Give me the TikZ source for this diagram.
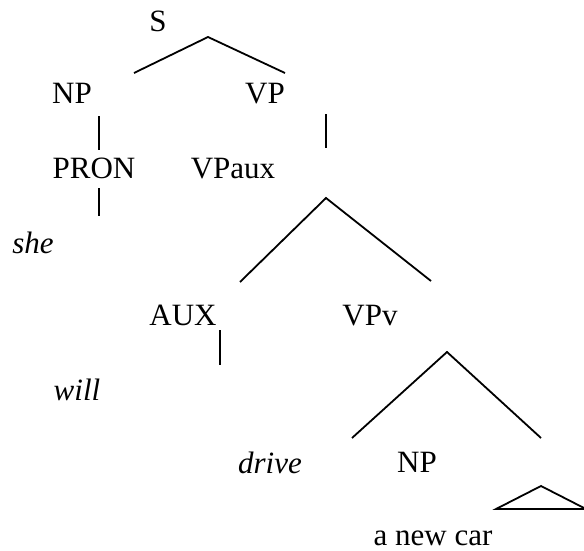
\documentclass[tikz,border=0pt]{standalone}
\usepackage{fontspec}
\setmainfont{Liberation Serif}
\begin{document}
\begin{tikzpicture}[x=1pt,y=-1pt,
  lbl/.style={anchor=base,inner sep=0pt,font=\fontsize{31}{37}\selectfont},
  wrd/.style={lbl,font=\fontsize{31}{37}\selectfont\itshape},
  edge/.style={line width=1.8pt,line cap=butt,line join=miter}]
\useasboundingbox (0,0) rectangle (584,551);
\clip (0,0) rectangle (584,551);
% labels
\node[lbl] (S) at (158,32) {S};
\node[lbl] (NP) at (72,103) {NP};
\node[lbl] (VP) at (265,103) {VP};
\node[lbl] (PRON) at (94,178) {PRON};
\node[lbl] (VPaux) at (233,178) {VPaux};
\node[wrd] (she) at (33,253) {she};
\node[lbl] (AUX) at (183,325) {AUX};
\node[lbl] (VPv) at (370,325) {VPv};
\node[wrd] (will) at (77,400) {will};
\node[wrd] (drive) at (270,473) {drive};
\node[lbl] (NPb) at (417,472) {NP};
\node[lbl] (car) at (433,545) {a new car};
% connector points
\coordinate (s1) at (134,73);
\coordinate (s0) at (208,37);
\coordinate (s2) at (285,73);
\coordinate (np0) at (99,116);
\coordinate (np1) at (99,150);
\coordinate (pr0) at (99,188);
\coordinate (pr1) at (99,216);
\coordinate (vp0) at (326,114);
\coordinate (vp1) at (326,148);
\coordinate (va1) at (240,282);
\coordinate (va0) at (326,198);
\coordinate (va2) at (431,281);
\coordinate (ax0) at (220,330);
\coordinate (ax1) at (220,365);
\coordinate (vv1) at (352,438);
\coordinate (vv0) at (447,352);
\coordinate (vv2) at (541,438);
\coordinate (t1) at (496,509);
\coordinate (t0) at (541,486);
\coordinate (t2) at (586,509);
% connectors
\draw[edge] (s1) -- (s0) -- (s2);
\draw[edge] (np0) -- (np1);
\draw[edge] (pr0) -- (pr1);
\draw[edge] (vp0) -- (vp1);
\draw[edge] (va1) -- (va0) -- (va2);
\draw[edge] (ax0) -- (ax1);
\draw[edge] (vv1) -- (vv0) -- (vv2);
\draw[edge] (t1) -- (t0) -- (t2) -- cycle;
\end{tikzpicture}
\end{document}
